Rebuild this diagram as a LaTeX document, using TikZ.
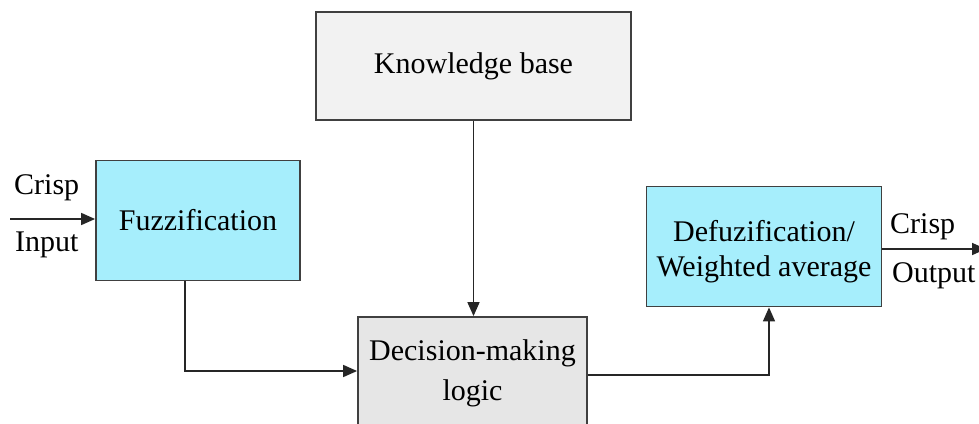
\documentclass[tikz,border=0pt]{standalone}
\usepackage{fontspec}
\setmainfont{Liberation Serif}
\usetikzlibrary{arrows.meta}
\definecolor{boxline}{HTML}{404040}
\definecolor{cyanfill}{HTML}{A6EEFC}
\definecolor{lightgray}{HTML}{F2F2F2}
\definecolor{midgray}{HTML}{E6E6E6}
\tikzset{
  block/.style={draw=boxline, line width=1.8pt, inner sep=0pt, align=center,
    font=\fontsize{30}{35}\selectfont},
  flow/.style={draw=black!85, line width=1.6pt,
    -{Triangle[length=14pt,width=12pt]}},
  lbl/.style={font=\fontsize{30}{35}\selectfont, inner sep=0pt, anchor=west},
  inner/.style={font=\fontsize{30}{#1}\selectfont, align=center, inner sep=0pt},
}
\begin{document}
\begin{tikzpicture}[x=1pt,y=-1pt]
\useasboundingbox (0,0) rectangle (979,423);
\clip (0,0) rectangle (979,423);

% blocks
\node[block, fill=lightgray, minimum width=315pt, minimum height=108pt] (kb) at (473.5,66) {Knowledge base};
\node[block, fill=cyanfill, minimum width=204pt, minimum height=120pt] (fuzz) at (198,220.5) {Fuzzification};
\node[block, fill=midgray, minimum width=229pt, minimum height=126pt] (dec) at (472.5,380) {};
\node[inner=40] (dectext) at (472.5,373) {Decision-making\\logic};
\node[block, fill=cyanfill, minimum width=235pt, minimum height=120pt] (defuz) at (764,246.5) {};
\node[inner=35] (defuztext) at (764,252) {Defuzification/\\Weighted average};

% input and output
\coordinate (inS) at (10,219);
\coordinate (outE) at (986,249);
\draw[flow] (inS) -- (inS -| fuzz.west);
\draw[flow] ([yshift=-2.5pt]defuz.east) -- (outE);

\node[lbl] (crispin) at (14,188) {Crisp};
\node[lbl] (input) at (15,245) {Input};
\node[lbl] (crispout) at (890,227) {Crisp};
\node[lbl] (output) at (892,276) {Output};

% internal connections
\draw[flow] ([xshift=-13pt]fuzz.south) |- ([yshift=9pt]dec.west);
\draw[flow] (kb.south) -- (kb.south |- dec.north);
\draw[flow] ([yshift=5pt]dec.east) -| ([xshift=5pt]defuz.south);
\end{tikzpicture}
\end{document}
